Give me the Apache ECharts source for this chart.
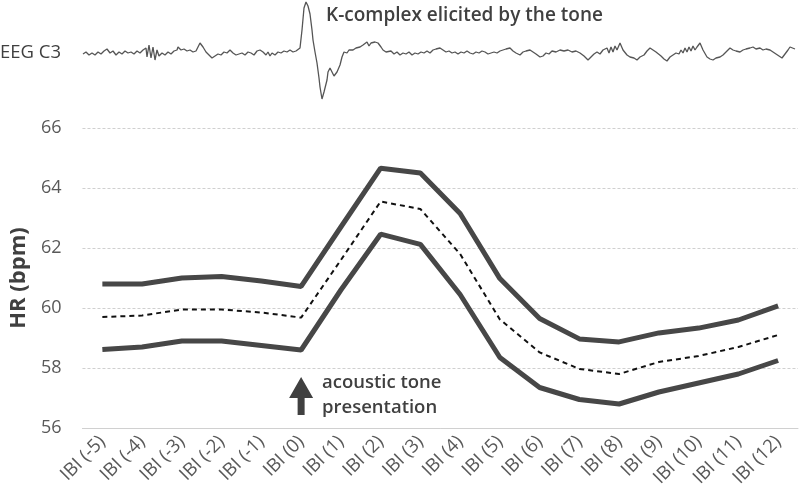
<!DOCTYPE html>
<html><head><meta charset="utf-8">
<script src="https://cdn.jsdelivr.net/npm/echarts@6/dist/echarts.min.js"></script>
<style>html,body{margin:0;padding:0;background:#fff}#c{width:800px;height:502px}</style>
</head><body><div id="c"></div>
<script>
const categories = ['IBI (-5)','IBI (-4)','IBI (-3)','IBI (-2)','IBI (-1)','IBI (0)','IBI (1)','IBI (2)','IBI (3)','IBI (4)','IBI (5)','IBI (6)','IBI (7)','IBI (8)','IBI (9)','IBI (10)','IBI (11)','IBI (12)'];
const upperHR = [60.8,60.8,61.0,61.05,60.9,60.72,62.7,64.66,64.5,63.15,60.98,59.65,58.97,58.87,59.17,59.33,59.6,60.07];
const meanHR  = [59.7,59.75,59.95,59.95,59.85,59.68,61.6,63.55,63.3,61.8,59.62,58.52,57.97,57.8,58.2,58.4,58.7,59.1];
const lowerHR = [58.62,58.7,58.9,58.9,58.75,58.6,60.6,62.46,62.12,60.45,58.35,57.35,56.95,56.8,57.2,57.5,57.8,58.25];
const yTicks = [56,58,60,62,64,66];

const eegTime = [0,3,6,9,12,15,18,21,24,27,30,33,36,39,42,45,48,51,54,57,60,63,64,66,68,70,72,74,76,79,82,85,88,91,94,95,98,101,104,107,110,113,115,117,120,123,126,129,132,135,138,141,144,147,150,153,156,159,162,165,168,171,174,177,180,183,185,187,189,192,195,198,201,204,207,210,213,215,217,219,221,223,225,227,229,230,232,234,236,237,239,241,242,244,245,247,249,251,252,254,255,257,259,261,264,266,268,270,273,275,277,280,282,284,286,288,290,292,295,298,300,303,305,308,311,314,317,320,323,326,329,332,335,338,341,344,347,350,353,357,360,363,366,369,372,375,378,381,384,387,390,393,396,399,402,405,408,411,414,417,420,423,427,430,433,437,440,443,447,450,453,457,460,463,466,469,473,477,481,485,489,493,497,501,505,508,511,514,517,520,522,524,526,528,530,532,534,537,540,544,547,551,554,557,561,564,567,570,573,575,578,581,584,587,590,593,596,598,600,602,604,606,608,610,612,614,617,620,624,627,630,633,637,640,643,647,650,653,657,660,663,667,670,673,677,680,683,687,690,693,696,699,702,705,707,709,712];
const eegAmp = [-1,1,-2,0,-2,1,-1,2,4,0,2,-2,1,-1,2,0,1,-1,2,0,3,5,-4,8,-5,6,-7,3,-3,0,-2,1,-1,2,3,6,3,4,2,3,1,2,6,10,6,1,-2,-5,-3,-1,-2,1,0,3,0,-2,-1,0,-2,1,0,-2,2,3,1,-2,1,-3,0,-2,1,0,2,1,3,1,2,1,5,23,45,51,47,39,23,13,1,-10,-25,-34,-46,-39,-37,-27,-19,-15,-16,-23,-25,-19,-20,-12,-4,1,0,3,1,3,5,4,6,8,9,11,7,10,8,11,10,6,3,1,0,2,-1,1,-2,0,-1,1,-2,0,-1,1,0,2,0,3,4,5,3,1,2,0,1,-1,1,0,2,0,-1,1,0,2,1,-1,0,1,0,2,3,4,5,2,0,-2,1,2,3,1,-1,-4,-3,0,-1,2,1,3,2,3,1,2,0,-3,-7,-4,-1,1,-1,3,1,5,0,6,1,7,3,10,3,-2,-4,-5,-7,-4,-2,2,5,3,1,0,-3,-6,-8,-4,-2,0,-1,3,0,5,1,6,2,7,3,6,10,3,-4,-6,-7,-5,-4,-2,1,5,3,2,1,3,4,5,6,4,5,3,4,3,1,-1,-3,-5,-1,3,6,5,4];

const eegData = eegTime.map((t, i) => [t, eegAmp[i]]);
const tickFont = "'Open Sans', 'DejaVu Sans', sans-serif";

const chart = echarts.init(document.getElementById('c'), null, {renderer: 'canvas'});
chart.setOption({
  animation: false,
  backgroundColor: '#ffffff',
  grid: [
    {left: 78, right: 2, top: 128, bottom: 74},
    {left: 83, width: 712, top: 0, height: 105}
  ],
  xAxis: [
    {
      type: 'category', gridIndex: 0, data: categories, boundaryGap: true,
      axisLine: {show: true, lineStyle: {color: '#d0d0d0', width: 1}},
      axisTick: {show: false},
      axisLabel: {rotate: 45, interval: 0, fontSize: 18.5, color: '#595959', fontFamily: tickFont, margin: 11}
    },
    {type: 'value', gridIndex: 1, min: 0, max: 712, show: false}
  ],
  yAxis: [
    {
      type: 'value', gridIndex: 0, min: yTicks[0], max: yTicks[yTicks.length-1], interval: 2,
      name: 'HR (bpm)', nameLocation: 'middle', nameGap: 51, nameRotate: 90,
      nameTextStyle: {fontSize: 22, fontWeight: 'bold', color: '#404040', fontFamily: tickFont},
      axisLine: {show: false}, axisTick: {show: false},
      axisLabel: {fontSize: 18, color: '#595959', fontFamily: tickFont, margin: 21},
      splitLine: {show: true, lineStyle: {color: '#d0d0d0', type: [3, 2], width: 1}}
    },
    {type: 'value', gridIndex: 1, min: -52, max: 53, show: false}
  ],
  series: [
    {
      name: 'upper', type: 'line', xAxisIndex: 0, yAxisIndex: 0, data: upperHR,
      symbol: 'none', lineStyle: {color: '#474747', width: 5}, z: 3
    },
    {
      name: 'mean', type: 'line', xAxisIndex: 0, yAxisIndex: 0, data: meanHR,
      symbol: 'none', lineStyle: {color: '#111111', width: 2, type: [5, 4]}, z: 3,
      markPoint: {
        silent: true,
        symbol: 'path://M12,0 L24,21 L15.5,21 L15.5,38 L8.5,38 L8.5,21 L0,21 Z',
        symbolSize: [24, 38],
        itemStyle: {color: '#404040'},
        label: {show: false},
        data: [{coord: ['IBI (0)', 57.07]}]
      }
    },
    {
      name: 'lower', type: 'line', xAxisIndex: 0, yAxisIndex: 0, data: lowerHR,
      symbol: 'none', lineStyle: {color: '#474747', width: 5}, z: 3
    },
    {
      name: 'EEG C3', type: 'line', xAxisIndex: 1, yAxisIndex: 1, data: eegData,
      symbol: 'none', lineStyle: {color: '#555555', width: 1.3}
    }
  ],
  graphic: [
    {type: 'text', left: 0, top: 43, style: {text: 'EEG C3', fontSize: 18.5, fill: '#404040', fontFamily: tickFont}},
    {type: 'text', left: 326, top: 6, style: {text: 'K-complex elicited by the tone', fontSize: 19, fontWeight: 600, fill: '#404040', fontFamily: tickFont}},
    {type: 'text', left: 322, top: 373, style: {text: 'acoustic tone', fontSize: 18.5, fontWeight: 600, fill: '#404040', fontFamily: tickFont}},
    {type: 'text', left: 322, top: 398, style: {text: 'presentation', fontSize: 18.5, fontWeight: 600, fill: '#404040', fontFamily: tickFont}}
  ]
});
</script></body></html>
